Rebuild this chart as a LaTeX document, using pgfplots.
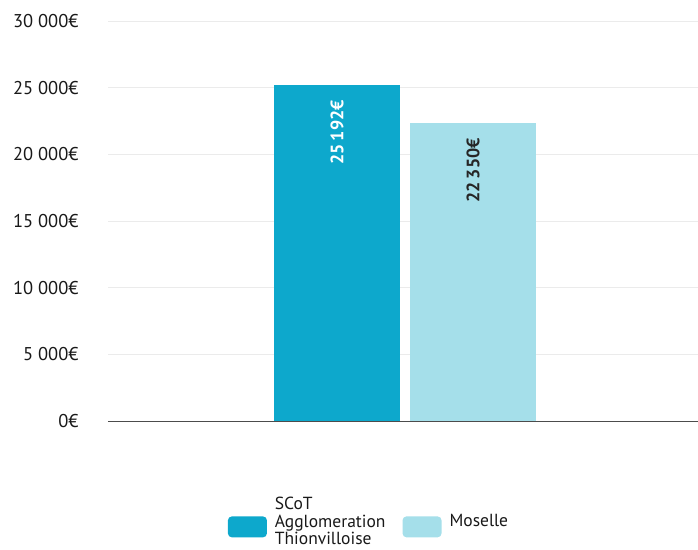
\documentclass[border=0pt]{standalone}
\usepackage{pgfplots}
\pgfplotsset{compat=1.18}
\usepackage{fontspec}
\setmainfont{PT Sans}
\definecolor{cdark}{HTML}{0DA8CC}
\definecolor{clight}{HTML}{A5DFEA}
\definecolor{cgrid}{HTML}{EBEBEB}
\pgfplotsset{mylegend/.style={legend image code/.code={\fill[##1, draw=none, rounded corners=4pt] (0pt,-24pt) rectangle (39pt,-3pt);}}}
\begin{document}
\begin{tikzpicture}
\begin{axis}[
  name=ax,
  scale only axis,
  width=590pt, height=400pt,
  xmin=-297, xmax=293,
  ymin=0, ymax=30000,
  scaled y ticks=false,
  ybar,
  bar width=126pt,
  axis x line*=bottom,
  axis y line*=left,
  y axis line style={draw=none},
  x axis line style={draw=black!70, line width=0.8pt},
  xtick=\empty,
  ytick={0,5000,10000,15000,20000,25000,30000},
  yticklabels={0€,5~000€,10~000€,15~000€,20~000€,25~000€,30~000€},
  ymajorgrids,
  grid style={cgrid, line width=0.8pt},
  major tick length=0pt,
  tick label style={font=\fontsize{18.5}{20}\selectfont, text=black!90},
  yticklabel style={anchor=east, xshift=-26pt},
  point meta=explicit symbolic,
  nodes near coords,
  nodes near coords style={font=\fontsize{18}{19}\selectfont\bfseries, yshift=-15pt, rotate=90, anchor=east, inner sep=0pt},
  legend columns=2,
  legend style={draw=none, at={(0.4475,-0.241)}, anchor=center, font=\fontsize{17.5}{16.5}\selectfont, text=black!90, inner sep=0pt,
    nodes={inner xsep=8pt, inner ysep=0pt},
    /tikz/every even column/.append style={column sep=9pt}},
  legend cell align=left,
]
\addplot[fill=cdark, draw=none, bar shift=-68pt, mylegend, nodes near coords style={text=white}] coordinates {(0,25192) [25\kern3pt192€]};
\addlegendentry{\begin{tabular}{@{}l@{}}SCoT\\Agglomeration\\Thionvilloise\end{tabular}}
\addplot[fill=clight, draw=none, bar shift=68pt, mylegend, nodes near coords style={text=black!85}] coordinates {(0,22350) [22\kern3pt350€]};
\addlegendentry{\begin{tabular}{@{}l@{}}\strut\\Moselle\\\strut\end{tabular}}
\end{axis}
\pgfresetboundingbox
\useasboundingbox ([xshift=-108pt,yshift=-129pt]ax.south west) rectangle ([yshift=21pt]ax.north east);
\end{tikzpicture}
\end{document}
